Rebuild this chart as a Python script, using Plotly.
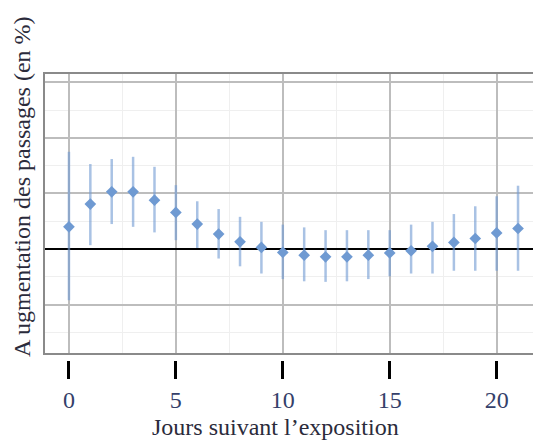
import plotly.graph_objects as go

days = list(range(22))
values = [4.0, 8.1, 10.3, 10.3, 8.8, 6.6, 4.5, 2.7, 1.3, 0.3, -0.6, -1.1, -1.4, -1.4, -1.1, -0.7, -0.3, 0.5, 1.2, 1.9, 2.9, 3.7]
upper = [17.5, 15.3, 16.2, 16.6, 14.8, 11.5, 8.6, 7.2, 5.8, 4.9, 4.4, 3.9, 3.4, 3.4, 3.4, 3.4, 4.4, 4.9, 6.3, 7.7, 9.5, 11.4]
lower = [-9.2, 0.7, 4.5, 4.0, 3.0, 1.6, 0.2, -1.7, -3.1, -4.4, -5.4, -5.8, -5.9, -5.8, -5.4, -4.9, -4.4, -4.4, -3.9, -3.9, -3.9, -3.9]
x_ticks = [0, 5, 10, 15, 20]

err_plus = [u - v for u, v in zip(upper, values)]
err_minus = [v - l for v, l in zip(values, lower)]

SERIF = "Liberation Serif, Times New Roman, DejaVu Serif, serif"
W, H = 533, 440
mt, mb = 74, 60
plot_h = H - mt - mb
dom0 = (380 - 353) / plot_h
pos2 = (380 - 360) / plot_h

fig = go.Figure()
fig.add_trace(go.Scatter(
    x=days, y=values, mode="markers",
    marker=dict(color="#6f9ad2", size=9, symbol="diamond"),
    error_y=dict(type="data", symmetric=False, array=err_plus, arrayminus=err_minus,
                 color="rgba(111,154,210,0.6)", thickness=2.5, width=0),
    showlegend=False,
))
fig.add_trace(go.Scatter(x=[x_ticks[0], x_ticks[-1]], y=[0, 0], xaxis="x2", mode="markers",
                         marker=dict(opacity=0), showlegend=False, hoverinfo="skip"))

xr = [-1.12, 21.7]
fig.update_layout(
    width=W, height=H,
    margin=dict(l=45, r=0, t=mt, b=mb),
    paper_bgcolor="white", plot_bgcolor="white",
    font=dict(family=SERIF, color="#2b2b3b"),
    xaxis=dict(range=xr, domain=[0, 1], anchor="y", tickvals=x_ticks, showticklabels=False,
               showgrid=True, gridcolor="#bdbdbd", gridwidth=2,
               minor=dict(tickvals=[2.5, 7.5, 12.5, 17.5], showgrid=True, gridcolor="#efefef", gridwidth=1),
               showline=True, linecolor="#8a8a8a", linewidth=2, mirror=True, zeroline=False, ticks=""),
    xaxis2=dict(range=xr, overlaying="x", anchor="free", position=pos2, side="bottom",
                tickvals=x_ticks, ticktext=[str(t) for t in x_ticks], ticks="outside", ticklen=18,
                tickwidth=2.5, tickcolor="black", showgrid=False, showline=False, zeroline=False,
                tickfont=dict(size=24, color="#34406a", family=SERIF)),
    yaxis=dict(range=[-18.7, 31.5], domain=[dom0, 1], dtick=10, tick0=0, showticklabels=False,
               showgrid=True, gridcolor="#bdbdbd", gridwidth=2,
               minor=dict(dtick=5, showgrid=True, gridcolor="#efefef", gridwidth=1),
               zeroline=True, zerolinecolor="black", zerolinewidth=2,
               showline=True, linecolor="#8a8a8a", linewidth=2, mirror=False, ticks=""),
    annotations=[
        dict(text="Jours suivant l\u2019exposition", xref="paper", yref="paper",
             x=(275 - 45) / (W - 45), y=(380 - 427) / plot_h, xanchor="center", yanchor="middle",
             showarrow=False, font=dict(size=24, family=SERIF, color="#2b2b3b")),
        dict(text="A ugmentation des passages (en %)", xref="paper", yref="paper",
             x=(22 - 45) / (W - 45), y=(380 - 187) / plot_h, xanchor="center", yanchor="middle",
             textangle=-90, showarrow=False,
             font=dict(size=24, family=SERIF, color="#2b2b3b")),
    ],
)

fig.write_html("out.html")
